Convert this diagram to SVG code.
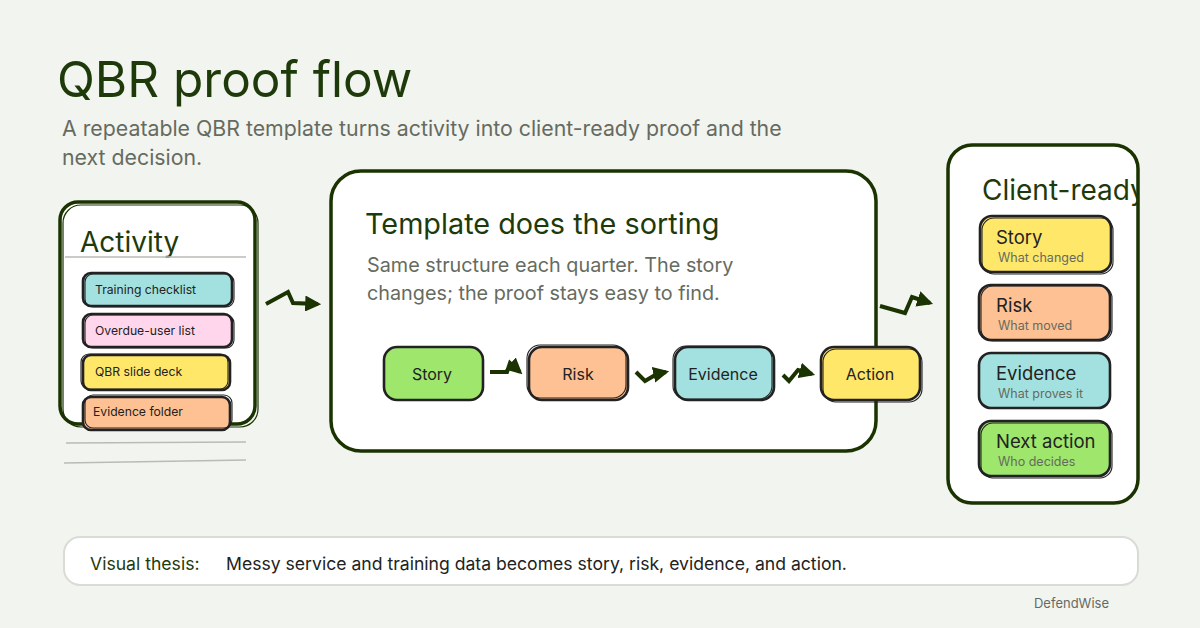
<svg xmlns="http://www.w3.org/2000/svg" width="1200" height="628" viewBox="0 0 1200 628">
<defs>
<style>
.bg{fill:#f2f4f0}
.frame{fill:#fff;stroke:#1a3300;stroke-width:3.5}
.frame2{fill:none;stroke:#1a3300;stroke-width:1.2}
.node{stroke:#222;stroke-width:2.6}
.node2{fill:none;stroke:#222;stroke-width:1.1}
.conn{fill:none;stroke:#1a3300;stroke-width:4;stroke-linejoin:miter}
.t{font-family:Inter,"Noto Sans",sans-serif}
.h{fill:#1f3a0a}
.g{fill:#666b60}
.d{fill:#222}
.cyan{fill:#a2e1df}.pink{fill:#ffd6ec}.yellow{fill:#ffe76a}.orange{fill:#fec193}.green{fill:#9ee66c}
</style>
<marker id="ah" viewBox="0 0 10 10" refX="8" refY="5" markerWidth="4" markerHeight="4" orient="auto" markerUnits="strokeWidth">
<path d="M0,0 L10,5 L0,10 z" fill="#1a3300"/>
</marker>
<clipPath id="crclip"><rect x="948" y="145" width="190" height="358" rx="24"/></clipPath>
</defs>
<rect class="bg" x="0" y="0" width="1200" height="628"/>

<g id="title">
<text class="t h" x="57" y="97" font-size="49.5">QBR proof flow</text>
<text class="t g" x="62" y="136" font-size="21.3">A repeatable QBR template turns activity into client-ready proof and the</text>
<text class="t g" x="62" y="165" font-size="21.3">next decision.</text>
</g>

<g id="activity">
<rect class="frame" x="60" y="202" width="195" height="222" rx="18"/>
<rect class="frame2" x="63" y="205" width="195" height="222" rx="18"/>
<text class="t h" x="80" y="252" font-size="28">Activity</text>
<line x1="65" y1="257" x2="246" y2="257" stroke="#b9bcb4" stroke-width="1.6"/>
<g id="act-training">
<rect class="node cyan" x="83" y="273" width="149" height="33" rx="8"/>
<rect class="node2" x="85" y="274" width="149" height="33" rx="8"/>
<text class="t d" x="95" y="294" font-size="12.2">Training checklist</text>
</g>
<g id="act-overdue">
<rect class="node pink" x="83" y="314" width="149" height="33" rx="8"/>
<rect class="node2" x="85" y="315" width="149" height="33" rx="8"/>
<text class="t d" x="95" y="335" font-size="12.2">Overdue-user list</text>
</g>
<g id="act-deck">
<rect class="node yellow" x="83" y="355" width="147" height="35" rx="8"/>
<rect class="node2" x="81" y="354" width="147" height="35" rx="8"/>
<text class="t d" x="95" y="376" font-size="12.2">QBR slide deck</text>
</g>
<g id="act-folder">
<rect class="node orange" x="83" y="397" width="147" height="33" rx="8"/>
<rect class="node2" x="85" y="395" width="147" height="33" rx="8"/>
<text class="t d" x="93" y="416" font-size="12.2">Evidence folder</text>
</g>
<path d="M66,443 L246,442" stroke="#b9bcb4" stroke-width="1.4" fill="none"/>
<path d="M64,463 L125,462 L186,461 L246,460" stroke="#b9bcb4" stroke-width="1.4" fill="none"/>
</g>

<g id="template">
<rect class="frame" x="331" y="171" width="545" height="280" rx="30"/>
<text class="t h" x="365" y="234" font-size="28.8">Template does the sorting</text>
<text class="t g" x="367" y="272" font-size="19.8">Same structure each quarter. The story</text>
<text class="t g" x="367" y="300" font-size="19.8">changes; the proof stays easy to find.</text>
<g id="flow-story">
<rect class="node green" x="384" y="347" width="99" height="53" rx="13"/>
<text class="t d" x="432" y="380" font-size="16" text-anchor="middle">Story</text>
</g>
<g id="flow-risk">
<rect class="node orange" x="529" y="347" width="99" height="53" rx="13"/>
<rect class="node2" x="527" y="345" width="99" height="53" rx="13"/>
<text class="t d" x="578" y="380" font-size="16" text-anchor="middle">Risk</text>
</g>
<g id="flow-evidence">
<rect class="node cyan" x="675" y="347" width="99" height="53" rx="13"/>
<rect class="node2" x="673" y="346" width="99" height="53" rx="13"/>
<text class="t d" x="723" y="380" font-size="16" text-anchor="middle">Evidence</text>
</g>
<g id="flow-action">
<rect class="node yellow" x="821" y="347" width="99" height="53" rx="13"/>
<rect class="node2" x="823" y="349" width="99" height="53" rx="13"/>
<text class="t d" x="870" y="380" font-size="16" text-anchor="middle">Action</text>
</g>
</g>

<g id="client">
<rect class="frame" x="948" y="145" width="190" height="358" rx="24"/>
<text class="t h" x="982" y="200" font-size="28" clip-path="url(#crclip)">Client-ready</text>
<g id="cr-story">
<rect class="node yellow" x="980" y="216" width="131" height="56" rx="12"/>
<rect class="node2" x="982" y="218" width="131" height="56" rx="12"/>
<text class="t d" x="996" y="244" font-size="18.5">Story</text>
<text class="t g" x="998" y="262" font-size="12.5">What changed</text>
</g>
<g id="cr-risk">
<rect class="node orange" x="979" y="285" width="131" height="55" rx="12"/>
<rect class="node2" x="981" y="286" width="131" height="55" rx="12"/>
<text class="t d" x="996" y="312" font-size="18.5">Risk</text>
<text class="t g" x="998" y="330" font-size="12.5">What moved</text>
</g>
<g id="cr-evidence">
<rect class="node cyan" x="979" y="353" width="131" height="55" rx="12"/>
<text class="t d" x="996" y="380" font-size="18.5">Evidence</text>
<text class="t g" x="998" y="398" font-size="12.5">What proves it</text>
</g>
<g id="cr-next">
<rect class="node green" x="979" y="421" width="131" height="55" rx="12"/>
<rect class="node2" x="981" y="423" width="131" height="55" rx="12"/>
<text class="t d" x="996" y="448" font-size="18.5">Next action</text>
<text class="t g" x="998" y="466" font-size="12.5">Who decides</text>
</g>
</g>

<g id="connectors">
<path class="conn" d="M266,304 L288,292 L293,303 L318,304" marker-end="url(#ah)"/>
<path class="conn" d="M490,372 L507,372 L510,363 L520,372" marker-end="url(#ah)" stroke-width="3.5"/>
<path class="conn" d="M636,372 L645,381 L657,374 L666,372" marker-end="url(#ah)" stroke-width="3.5"/>
<path class="conn" d="M783,375 L789,381 L798,370 L812,374" marker-end="url(#ah)" stroke-width="3.5"/>
<path class="conn" d="M880,306 L905,313 L912,297 L930,303" marker-end="url(#ah)"/>
</g>

<g id="thesis">
<rect x="64" y="537" width="1074" height="48" rx="16" fill="#fff" stroke="#d9dcd5" stroke-width="2"/>
<text class="t h" x="90" y="570" font-size="17.6">Visual thesis:</text>
<text class="t d" x="226" y="570" font-size="17.6">Messy service and training data becomes story, risk, evidence, and action.</text>
</g>
<text class="t g" x="1109" y="608" font-size="13" text-anchor="end">DefendWise</text>
</svg>
